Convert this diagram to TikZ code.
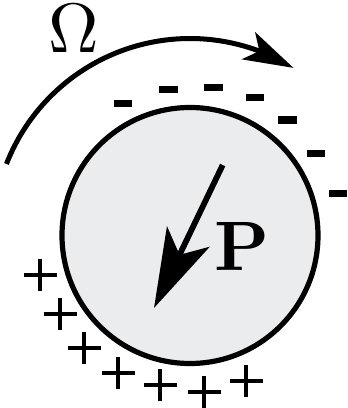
\documentclass[tikz,border=0pt]{standalone}
\usetikzlibrary{arrows.meta,bending}
\definecolor{circfill}{RGB}{235,236,238}
\tikzset{
  negmark/.style={fill=black, draw=none, minimum width=18.5pt, minimum height=7.2pt, inner sep=0pt},
  posmark/.pic={\draw[line width=3.9pt] (-16.5,0) -- (16.5,0) (0,-16) -- (0,16);},
  biglabel/.style={inner sep=0pt, scale=7, transform shape}
}
\begin{document}
\begin{tikzpicture}[x=1pt,y=1pt]
\useasboundingbox (0,0) rectangle (348,408);
% particle
\coordinate (c) at (190,172.5);
\draw[line width=5.2pt, fill=circfill] (c) circle[radius=128];
% rotation arrow
\draw[line width=5pt, -{Stealth[length=50pt,width=30pt,inset=12pt,flex]}]
  (c) ++(158.7:197) arc[start angle=158.7, end angle=58.3, radius=197];
\node[biglabel] (omega) at (73.7,379.5) {$\Omega$};
% polarization arrow
\coordinate (ptail) at (222.7,243);
\coordinate (ptip) at (154,100);
\draw[line width=5.8pt, -{Stealth[length=79pt,width=47pt,inset=20pt]}] (ptail) -- (ptip);
\node[biglabel] (plabel) at (242,162) {$\mathbf{P}$};
% negative charges
\node[negmark] (m1) at (123,304.7) {};
\node[negmark] (m2) at (168.5,318.7) {};
\node[negmark] (m3) at (213.5,320.7) {};
\node[negmark] (m4) at (255,310.7) {};
\node[negmark] (m5) at (287.7,288) {};
\node[negmark] (m6) at (315.8,254.7) {};
\node[negmark] (m7) at (337.8,214.7) {};
% positive charges
\pic at (40,133) {posmark};
\pic at (60,93.7) {posmark};
\pic at (84.3,60.3) {posmark};
\pic at (118.3,34.7) {posmark};
\pic at (160,23) {posmark};
\pic at (204.3,16.3) {posmark};
\pic at (246,27) {posmark};
\end{tikzpicture}
\end{document}
